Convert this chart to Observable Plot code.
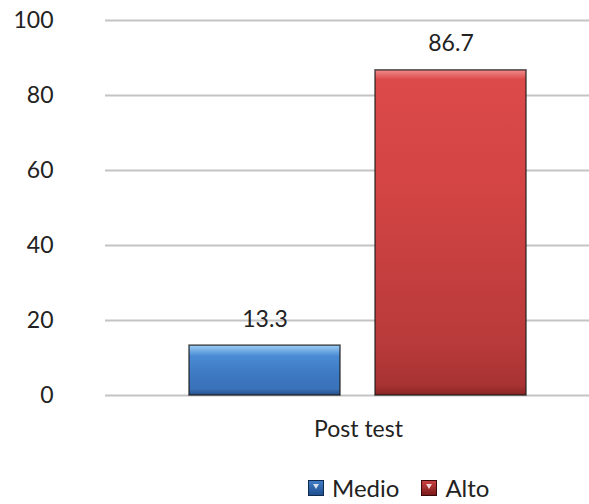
<!DOCTYPE html>
<html>
<head>
<meta charset="utf-8">
<script src="https://cdn.jsdelivr.net/npm/d3@7"></script>
<script src="https://cdn.jsdelivr.net/npm/@observablehq/plot@0.6"></script>
<style>
  html, body { margin: 0; padding: 0; background: #fff; overflow: hidden; }
  #wrap { position: relative; width: 589px; height: 504px; font-family: Lato, "Open Sans", sans-serif; }
  #legend { position: absolute; left: 308px; top: 473px; display: flex; align-items: center; font-size: 24px; color: #222; }
  .item { display: flex; align-items: center; margin-right: 22px; }
  .sw { width: 16px; height: 16px; margin-right: 8px; box-sizing: border-box; position: relative; }
  .sw::after { content: ""; position: absolute; left: 4px; top: 3px; border-left: 3.5px solid transparent; border-right: 3.5px solid transparent; border-top: 5px solid rgba(255,255,255,0.8); }
</style>
</head>
<body>
<div id="wrap"><div id="chart"></div><div id="legend"></div></div>
<script>
const categories = ["Post test"];
const series = ["Medio", "Alto"];
const values = [13.3, 86.7];
const yTicks = [0, 20, 40, 60, 80, 100];

const data = series.map((s, i) => ({cat: categories[0], series: s, value: values[i]}));

const chart = Plot.plot({
  width: 589,
  height: 460,
  marginLeft: 105,
  marginRight: 0,
  marginTop: 20,
  marginBottom: 65,
  style: {fontFamily: "Lato, 'Open Sans', sans-serif", fontSize: "23px", color: "#222", background: "transparent", overflow: "visible"},
  fx: {domain: categories, range: [105, 611], padding: 0, label: null, tickSize: 0, tickPadding: 25, axis: "bottom"},
  x: {domain: series, paddingInner: 0.1877, paddingOuter: 0.45, axis: null},
  y: {domain: [0, 100], ticks: yTicks, tickSize: 0, tickPadding: 52, label: null},
  color: {domain: series, range: ["url(#gBlue)", "url(#gRed)"]},
  marks: [
    Plot.ruleY(yTicks, {stroke: "#c4c4c4", strokeWidth: 2}),
    Plot.barY(data, {fx: "cat", x: "series", y: "value", fill: "series", stroke: "#1a1a1a", strokeOpacity: 0.75, strokeWidth: 1.5}),
    Plot.text(data, {fx: "cat", x: "series", y: "value", text: d => d.value.toFixed(1), lineAnchor: "bottom", dy: -19, fontSize: 23, fill: "#222"})
  ]
});

// gradients for the bevelled bar look
const defs = d3.select(chart).insert("defs", ":first-child");
function grad(id, stops) {
  const g = defs.append("linearGradient").attr("id", id).attr("x1", 0).attr("y1", 0).attr("x2", 0).attr("y2", 1);
  stops.forEach(([o, c]) => g.append("stop").attr("offset", o).attr("stop-color", c));
}
grad("gBlue", [["0%", "#9ccff5"], ["22%", "#4a8ad4"], ["60%", "#3d78c2"], ["88%", "#3a72b8"], ["100%", "#264f88"]]);
grad("gRed", [["0%", "#f28b8b"], ["3%", "#dc4a4a"], ["35%", "#d44444"], ["85%", "#b83a3a"], ["97%", "#a83232"], ["100%", "#8a2424"]]);

document.getElementById("chart").appendChild(chart);

const legend = document.getElementById("legend");
series.forEach((s, i) => {
  const item = document.createElement("div");
  item.className = "item";
  const sw = document.createElement("span");
  sw.className = "sw";
  sw.style.background = i === 0 ? "linear-gradient(#3f7cc6, #1f4f8f)" : "linear-gradient(#c84040, #7a1a1a)";
  sw.style.border = "1px solid " + (i === 0 ? "#0f2a50" : "#3a0a0a");
  item.appendChild(sw);
  const t = document.createElement("span");
  t.textContent = s;
  item.appendChild(t);
  legend.appendChild(item);
});
</script>
</body>
</html>
